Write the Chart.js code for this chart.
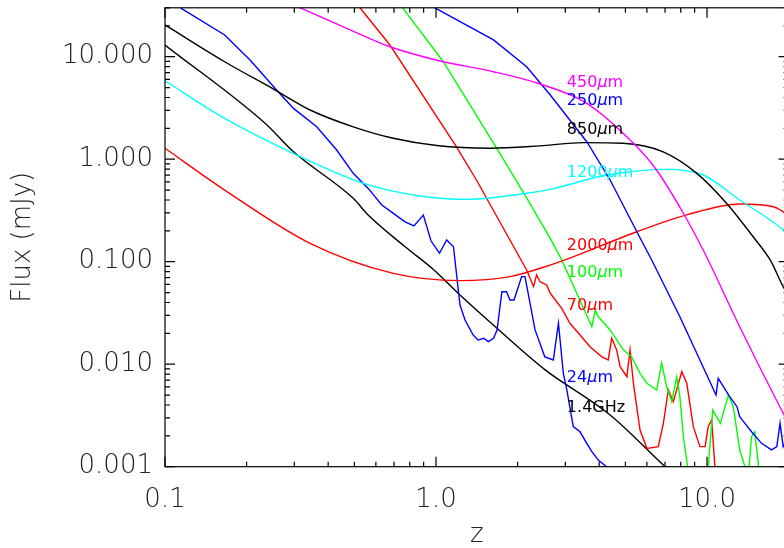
<!DOCTYPE html>
<html>
<head>
<meta charset="utf-8">
<script src="https://cdn.jsdelivr.net/npm/chart.js@4/dist/chart.umd.min.js"></script>
<style>
  html, body { margin: 0; padding: 0; overflow: hidden; background: #fff; }
  #wrap { width: 784px; height: 548px; overflow: hidden; }
</style>
</head>
<body>
<div id="wrap"><canvas id="chart" width="800" height="548"></canvas></div>
<script>
// values (z, flux in mJy)
const z450 = [0.30, 0.468, 0.676, 1.035, 1.63, 2.42, 3.60, 5.42, 6.51, 8.18, 9.68, 13.2, 19.1, 20];
const f450 = [31.8, 18.9, 12.5, 9.08, 7.14, 5.42, 3.51, 1.38, 0.785, 0.297, 0.130, 0.0232, 0.00332, 0.00264];

const z250 = [0.95, 1.63, 2.16, 2.64, 3.60, 4.39, 5.51, 6.25, 7.94, 10.8, 11.0, 11.3, 12.0, 12.9, 13.2, 13.8, 14.6, 15.9, 17.3, 18.1, 18.6, 19.1, 20];
const f250 = [31.8, 14.6, 7.98, 4.23, 1.48, 0.627, 0.196, 0.104, 0.0290, 0.00501, 0.00728, 0.00651, 0.00501, 0.00385, 0.00308, 0.00265, 0.00219, 0.00169, 0.00146, 0.00157, 0.00265, 0.00157, 0.0020];

const z850 = [0.1, 0.166, 0.255, 0.343, 0.495, 0.696, 1.006, 1.58, 2.42, 3.49, 4.90, 6.89, 9.17, 11.8, 14.8, 17.1, 19.1, 20];
const f850 = [20.4, 8.93, 4.73, 3.02, 2.07, 1.60, 1.36, 1.28, 1.35, 1.45, 1.43, 1.18, 0.728, 0.372, 0.175, 0.104, 0.057, 0.046];

const z1200 = [0.1, 0.166, 0.315, 0.540, 0.873, 1.30, 2.16, 2.64, 4.27, 7.10, 9.68, 13.2, 19.1, 20];
const f1200 = [5.83, 2.50, 1.06, 0.581, 0.438, 0.406, 0.465, 0.508, 0.701, 0.796, 0.701, 0.400, 0.204, 0.18];

const z2000 = [0.1, 0.166, 0.343, 0.696, 1.226, 1.875, 2.64, 2.99, 5.51, 8.41, 13.2, 17.6, 19.1, 20];
const f2000 = [1.28, 0.500, 0.151, 0.0769, 0.0653, 0.0715, 0.0927, 0.104, 0.196, 0.286, 0.366, 0.344, 0.308, 0.29];

const z100 = [0.753, 1.064, 1.674, 2.13, 2.64, 2.91, 3.76, 3.87, 3.97, 4.39, 4.91, 5.27, 5.66, 6.00, 6.52, 6.80, 7.10, 7.41, 7.73, 7.94, 8.18, 8.8, 9.9, 10.5, 11.2, 12.0, 12.5, 13.2, 13.8, 14.2, 14.6, 15.0, 15.5, 16];
const f100 = [30, 8.93, 1.28, 0.447, 0.169, 0.104, 0.0232, 0.0338, 0.0290, 0.0216, 0.0138, 0.0118, 0.00815, 0.00651, 0.00560, 0.0102, 0.00602, 0.00431, 0.00755, 0.00482, 0.00196, 0.0005, 0.0005, 0.00357, 0.00265, 0.00501, 0.00385, 0.00146, 0.001, 0.0008, 0.00196, 0.00219, 0.001, 0.0005];

const z70 = [0.524, 0.676, 1.19, 1.41, 2.16, 2.29, 2.35, 2.42, 2.56, 2.64, 2.91, 3.12, 3.40, 3.70, 4.09, 4.32, 4.45, 4.64, 4.78, 5.06, 5.20, 5.35, 5.66, 6.00, 6.61, 6.90, 7.20, 7.51, 8.07, 8.42, 8.90, 9.42, 9.84, 10.1, 10.4, 10.7, 10.9];
const f70 = [30, 13.0, 1.32, 0.627, 0.083, 0.0571, 0.0741, 0.0638, 0.0593, 0.0492, 0.0351, 0.0251, 0.0193, 0.0148, 0.0118, 0.0110, 0.0179, 0.0138, 0.00946, 0.00755, 0.0138, 0.00651, 0.00228, 0.00151, 0.00157, 0.00265, 0.00560, 0.00431, 0.00845, 0.00651, 0.00246, 0.00157, 0.00157, 0.00246, 0.00286, 0.00097, 0.0005];

const z24 = [0.114, 0.166, 0.206, 0.258, 0.298, 0.363, 0.430, 0.495, 0.562, 0.631, 0.696, 0.769, 0.829, 0.898, 0.958, 1.03, 1.095, 1.16, 1.226, 1.28, 1.37, 1.43, 1.50, 1.56, 1.63, 1.68, 1.75, 1.82, 1.875, 1.94, 2.07, 2.13, 2.32, 2.52, 2.71, 2.83, 2.95, 3.04, 3.21, 3.40, 3.60, 3.76, 3.97, 4.32, 5.0];
const f24 = [30, 16.3, 9.27, 4.73, 3.13, 2.07, 1.23, 0.728, 0.519, 0.357, 0.296, 0.245, 0.223, 0.285, 0.160, 0.121, 0.163, 0.140, 0.0378, 0.0270, 0.0193, 0.0172, 0.0179, 0.0166, 0.0179, 0.0215, 0.0509, 0.0509, 0.0423, 0.0423, 0.0715, 0.0715, 0.0216, 0.0118, 0.0110, 0.0251, 0.00815, 0.0056, 0.00246, 0.00219, 0.00169, 0.0014, 0.00116, 0.00097, 0.0005];

const z14 = [0.1, 0.234, 0.298, 0.495, 0.562, 0.769, 0.978, 1.226, 1.627, 2.5, 4.39, 7.0, 10];
const f14 = [13.0, 2.24, 1.18, 0.415, 0.285, 0.140, 0.0841, 0.0473, 0.0241, 0.0090, 0.00319, 0.001, 0.00043];

const xTicks = [0.1, 1, 10];
const yTicks = [0.001, 0.01, 0.1, 1, 10];

// curve labels: text, colour, anchor (z, flux)
const labelNum = ['450', '250', '850', '1200', '2000', '100', '70', '24', '1.4GHz'];
const labelColor = ['#ff00ff', '#0000ff', '#000000', '#00ffff', '#ff0000', '#00ff00', '#ff0000', '#0000ff', '#000000'];
const labelZ = 3.04;
const labelFlux = [5.6, 3.70, 1.93, 0.741, 0.142, 0.0785, 0.0374, 0.00741, 0.00379];

function pts(zs, fs) {
  return zs.map((z, i) => ({ x: z, y: fs[i] }));
}

function line(zs, fs, color, smooth) {
  return {
    data: pts(zs, fs),
    borderColor: color,
    borderWidth: 1.4,
    pointRadius: 0,
    showLine: true,
    tension: smooth ? 0.4 : 0,
    cubicInterpolationMode: smooth ? 'monotone' : 'default'
  };
}

const tickFont = { family: 'DejaVu Sans', size: 26, weight: 200 };

// IDL-like frame with inward ticks on all four sides
const frame = {
  id: 'frame',
  afterDatasetsDraw(chart) {
    const { ctx, chartArea: a, scales: { x, y } } = chart;
    ctx.save();
    ctx.strokeStyle = '#000';
    ctx.lineWidth = 1.2;
    ctx.strokeRect(a.left, a.top, a.right - a.left, a.bottom - a.top);
    ctx.beginPath();
    for (let d = 0.1; d <= 10; d *= 10) {
      for (let m = 1; m <= 9; m++) {
        const v = d * m;
        if (v > 20) continue;
        const px = x.getPixelForValue(v);
        const len = m === 1 ? 10 : 5;
        ctx.moveTo(px, a.bottom); ctx.lineTo(px, a.bottom - len);
        ctx.moveTo(px, a.top); ctx.lineTo(px, a.top + len);
      }
    }
    for (let d = 0.001; d <= 10.1; d *= 10) {
      for (let m = 1; m <= 9; m++) {
        const v = d * m;
        if (v > 30) continue;
        const py = y.getPixelForValue(v);
        const len = m === 1 ? 10 : 5;
        ctx.moveTo(a.left, py); ctx.lineTo(a.left + len, py);
        ctx.moveTo(a.right, py); ctx.lineTo(a.right - len, py);
      }
    }
    ctx.stroke();

    // curve labels
    ctx.textBaseline = 'middle';
    ctx.textAlign = 'left';
    labelNum.forEach((t, i) => {
      let px = x.getPixelForValue(labelZ);
      const py = y.getPixelForValue(labelFlux[i]);
      ctx.fillStyle = labelColor[i];
      ctx.font = '16px "DejaVu Sans"';
      ctx.fillText(t, px, py);
      if (t.indexOf('GHz') >= 0) return;
      px += ctx.measureText(t).width;
      ctx.font = 'italic 16px "DejaVu Sans"';
      ctx.fillText('\u03bc', px, py);
      px += ctx.measureText('\u03bc').width;
      ctx.font = '16px "DejaVu Sans"';
      ctx.fillText('m', px, py);
    });
    ctx.restore();
  }
};

new Chart(document.getElementById('chart').getContext('2d'), {
  type: 'scatter',
  data: {
    datasets: [
      line(z450, f450, '#ff00ff', true),
      line(z250, f250, '#0000ff', false),
      line(z850, f850, '#000000', true),
      line(z1200, f1200, '#00ffff', true),
      line(z2000, f2000, '#ff0000', true),
      line(z100, f100, '#00ff00', false),
      line(z70, f70, '#ff0000', false),
      line(z24, f24, '#0000ff', false),
      line(z14, f14, '#000000', true)
    ]
  },
  options: {
    responsive: false,
    animation: false,
    layout: { padding: { top: 7.8, right: 11.4, left: 0, bottom: 0 } },
    plugins: { legend: { display: false }, tooltip: { enabled: false } },
    scales: {
      x: {
        type: 'logarithmic',
        min: 0.1,
        max: 20,
        grid: { display: false, drawTicks: false },
        border: { display: false },
        afterBuildTicks: s => { s.ticks = xTicks.map(v => ({ value: v })); },
        afterFit: s => { s.height = 81.3; s.paddingLeft = 0; s.paddingRight = 0; },
        ticks: {
          font: tickFont,
          color: '#222',
          padding: 18,
          maxRotation: 0,
          callback: v => Number(v).toFixed(1)
        },
        title: {
          display: true,
          text: 'z',
          font: { family: 'DejaVu Sans', size: 26, weight: 200, lineHeight: 1 },
          color: '#222',
          padding: { top: 0, bottom: 0 }
        }
      },
      y: {
        type: 'logarithmic',
        min: 0.001,
        max: 30,
        grid: { display: false, drawTicks: false },
        border: { display: false },
        afterBuildTicks: s => { s.ticks = yTicks.map(v => ({ value: v })); },
        afterFit: s => { s.width = 165; s.paddingTop = 0; s.paddingBottom = 0; },
        ticks: {
          font: tickFont,
          color: '#222',
          padding: 12,
          callback: v => Number(v).toFixed(3)
        },
        title: {
          display: true,
          text: 'Flux (mJy)',
          font: { family: 'DejaVu Sans', size: 26, weight: 200, lineHeight: 1 },
          color: '#222',
          padding: { top: 10, bottom: 0 }
        }
      }
    }
  },
  plugins: [frame]
});
</script>
</body>
</html>
